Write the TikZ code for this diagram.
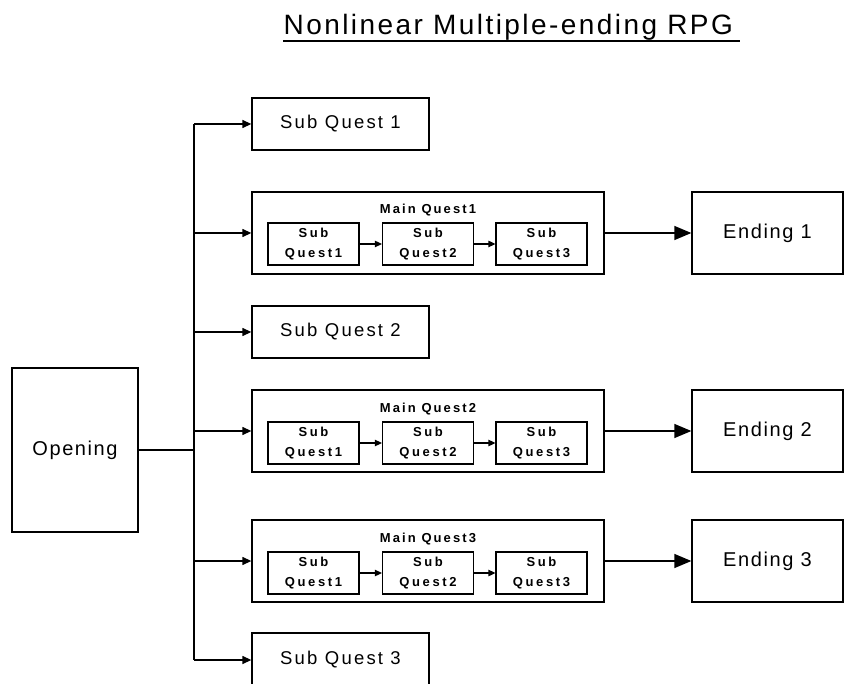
\documentclass[tikz,border=0pt]{standalone}
\usepackage{fontspec}
\setmainfont{Liberation Sans}
\newfontfamily\titlef[LetterSpace=8.7]{Liberation Sans}
\newfontfamily\sqf[LetterSpace=12]{Liberation Sans}
\newfontfamily\endf[LetterSpace=8]{Liberation Sans}
\newfontfamily\smallf[LetterSpace=20]{Liberation Sans}
\newfontfamily\labf[LetterSpace=16]{Liberation Sans}
\usetikzlibrary{arrows.meta}
\begin{document}
\begin{tikzpicture}[x=1pt,y=-1pt,
  line width=1.3pt,
  box/.style={draw, inner sep=0pt, align=center},
  sqbox/.style={box, minimum width=177pt, minimum height=52pt, font=\sqf\fontsize{18.5}{22}\selectfont},
  mqbox/.style={box, minimum width=352pt, minimum height=82pt},
  endbox/.style={box, minimum width=151pt, minimum height=82pt, font=\endf\fontsize{20}{24}\selectfont},
  inbox/.style={box, minimum width=91pt, minimum height=42pt, font=\smallf\bfseries\fontsize{13}{20}\selectfont},
  mqlabel/.style={inner sep=0pt, font=\labf\bfseries\fontsize{13}{16}\selectfont},
  brarrow/.style={-{Triangle[length=9pt,width=8pt]}},
  inarrow/.style={-{Triangle[length=7pt,width=6.5pt]}},
  endarrow/.style={-{Triangle[length=17pt,width=14pt]}}
]
\useasboundingbox (0,0) rectangle (846,684);

% title
\node[anchor=base west, inner sep=0pt, font=\titlef\fontsize{28}{32}\selectfont] (title) at (283,35) {Nonlinear Multiple-ending RPG};
\draw[line width=1.2pt] ([yshift=-6pt]title.base west) -- ([yshift=-6pt,xshift=6pt]title.base east);

% opening
\node[box, minimum width=126pt, minimum height=164pt, font=\endf\fontsize{20}{24}\selectfont] (open) at (75,450) {Opening};

% sub quests
\node[sqbox] (sq1) at (340.5,124) {Sub Quest 1};
\node[sqbox] (sq2) at (340.5,332) {Sub Quest 2};
\node[sqbox, minimum height=54pt] (sq3) at (340.5,660) {Sub Quest 3};

% main quests
\node[mqbox] (mq1) at (428,233) {};
\node[mqbox] (mq2) at (428,431) {};
\node[mqbox] (mq3) at (428,561) {};

\node[mqlabel] (l1) at (428,210) {Main Quest1};
\node[mqlabel] (l2) at (428,409) {Main Quest2};
\node[mqlabel] (l3) at (428,539) {Main Quest3};

\foreach \m/\y in {1/244,2/443,3/573}{
  \node[inbox] (a\m) at (313.5,\y) {Sub\\Quest1};
  \node[inbox] (b\m) at (428,\y) {Sub\\Quest2};
  \node[inbox] (c\m) at (541.5,\y) {Sub\\Quest3};
  \draw[inarrow] (a\m) -- (b\m);
  \draw[inarrow] (b\m) -- (c\m);
}

% endings
\node[endbox] (e1) at (767.5,233) {Ending 1};
\node[endbox] (e2) at (767.5,431) {Ending 2};
\node[endbox] (e3) at (767.5,561) {Ending 3};

\draw[endarrow] (mq1) -- (e1);
\draw[endarrow] (mq2) -- (e2);
\draw[endarrow] (mq3) -- (e3);

% spine
\coordinate (sp) at (194,0);
\draw (open.east) -- (sp |- open);
\draw (sp |- sq1) -- (sp |- sq3);
\foreach \t in {sq1,mq1,sq2,mq2,mq3,sq3}{
  \draw[brarrow] (sp |- \t) -- (\t.west);
}
\end{tikzpicture}
\end{document}
